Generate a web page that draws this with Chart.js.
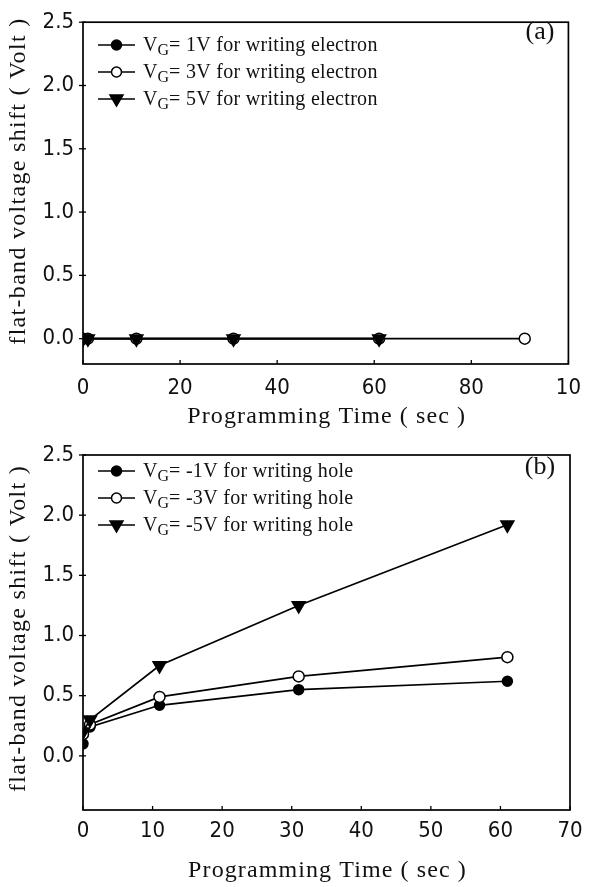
<!DOCTYPE html>
<html><head><meta charset="utf-8">
<script src="https://cdn.jsdelivr.net/npm/chart.js@4/dist/chart.umd.min.js"></script>
<style>
html,body{margin:0;padding:0;background:#fff;width:592px;height:887px;overflow:hidden}
canvas{position:absolute;left:0}
#c1{top:0}
#c2{top:430px}
</style></head><body>
<canvas id="c1" width="592" height="430"></canvas>
<canvas id="c2" width="592" height="457"></canvas>
<script>
// ---- data: panel (a) writing electrons ----
const timeA = [0, 1, 11, 31, 61];
const timeA3 = [0, 1, 11, 31, 61, 91];
const shiftA1 = [0, 0, 0, 0, 0];
const shiftA3 = [0, 0, 0, 0, 0, 0];
const shiftA5 = [0, 0, 0, 0, 0];
const legendA = ['= 1V for writing electron', '= 3V for writing electron', '= 5V for writing electron'];
const xTicksA = [0, 20, 40, 60, 80, 100];
const xTickLabelsA = ['0', '20', '40', '60', '80', '10'];

// ---- data: panel (b) writing holes ----
const timeB = [0, 1, 11, 31, 61];
const shiftB1 = [0.10, 0.24, 0.42, 0.55, 0.62];
const shiftB3 = [0.18, 0.26, 0.49, 0.66, 0.82];
const shiftB5 = [0.20, 0.30, 0.75, 1.25, 1.92];
const legendB = ['= -1V for writing hole', '= -3V for writing hole', '= -5V for writing hole'];
const xTicksB = [0, 10, 20, 30, 40, 50, 60, 70];
const xTickLabelsB = ['0', '10', '20', '30', '40', '50', '60', '70'];

const yTicks = [0, 0.5, 1.0, 1.5, 2.0, 2.5];
const yTickLabels = ['0.0', '0.5', '1.0', '1.5', '2.0', '2.5'];

const xTitle = 'Programming Time ( sec )';
const yTitle = 'flat-band voltage shift ( Volt )';

const SERIF = '"Liberation Serif", "DejaVu Serif", serif';
const NARROW = '"DejaVu Sans Condensed", "Liberation Sans Narrow", "DejaVu Sans", sans-serif';

function pts(xs, ys) { return xs.map((x, i) => ({x: x, y: ys[i]})); }

const styles = [
  {pointStyle: 'circle', pointRadius: 5, pointBackgroundColor: '#000', pointRotation: 0},
  {pointStyle: 'circle', pointRadius: 5.5, pointBackgroundColor: '#fff', pointRotation: 0},
  {pointStyle: 'triangle', pointRadius: 7.5, pointBackgroundColor: '#000', pointRotation: 180}
];

function makeDatasets(series, labels) {
  return series.map((s, i) => Object.assign({
    label: labels[i],
    data: s,
    showLine: true,
    borderColor: '#000',
    borderWidth: 1.7,
    pointBorderColor: '#000',
    pointBorderWidth: 1.5,
    order: 2 - i
  }, styles[i]));
}

const framePlugin = {
  id: 'frame',
  afterDraw(chart, args, opts) {
    const {ctx, chartArea: a, scales} = chart;
    ctx.save();
    ctx.strokeStyle = '#000';
    ctx.lineWidth = 1.7;
    ctx.strokeRect(a.left, a.top, a.right - a.left, a.bottom - a.top);
    ctx.lineWidth = 1.3;
    scales.x.ticks.forEach(t => {
      const px = scales.x.getPixelForValue(t.value);
      ctx.beginPath(); ctx.moveTo(px, a.bottom); ctx.lineTo(px, a.bottom - 4); ctx.stroke();
    });
    scales.y.ticks.forEach(t => {
      const py = scales.y.getPixelForValue(t.value);
      ctx.beginPath(); ctx.moveTo(a.left - 4, py); ctx.lineTo(a.left + 3, py); ctx.stroke();
    });
    // axis titles
    ctx.fillStyle = '#111';
    ctx.textAlign = 'center';
    ctx.textBaseline = 'middle';
    ctx.font = '24px ' + SERIF;
    ctx.letterSpacing = '1.1px';
    ctx.fillText(xTitle, (a.left + a.right) / 2 + 1, opts.xTitleY);
    ctx.letterSpacing = '1.3px';
    ctx.save();
    ctx.translate(19, (a.top + a.bottom) / 2 + opts.yTitleShift);
    ctx.rotate(-Math.PI / 2);
    ctx.fillText(yTitle, 0, 0);
    ctx.restore();
    ctx.letterSpacing = '0px';
    // panel tag
    ctx.font = '26px ' + SERIF;
    ctx.fillText(opts.tag, opts.tagX, opts.tagY);
    // legend
    chart.data.datasets.forEach((ds, i) => {
      const y = opts.legendY + i * opts.legendGap;
      const x0 = opts.legendX;
      const cx = x0 + 18.5;
      ctx.strokeStyle = '#000';
      ctx.lineWidth = 1.7;
      ctx.beginPath(); ctx.moveTo(x0, y); ctx.lineTo(x0 + 37, y); ctx.stroke();
      ctx.fillStyle = ds.pointBackgroundColor;
      ctx.lineWidth = 1.5;
      ctx.beginPath();
      if (ds.pointStyle === 'circle') {
        ctx.arc(cx, y, 5, 0, Math.PI * 2);
      } else {
        ctx.moveTo(cx - 6.5, y - 4);
        ctx.lineTo(cx + 6.5, y - 4);
        ctx.lineTo(cx, y + 7);
        ctx.closePath();
      }
      ctx.fill(); ctx.stroke();
      ctx.fillStyle = '#111';
      ctx.textAlign = 'left';
      ctx.textBaseline = 'alphabetic';
      let tx = x0 + 45;
      ctx.font = '20px ' + SERIF;
      ctx.fillText('V', tx, y + 6);
      tx += ctx.measureText('V').width;
      ctx.font = '16px ' + SERIF;
      ctx.fillText('G', tx, y + 10);
      tx += ctx.measureText('G').width;
      ctx.font = '20px ' + SERIF;
      ctx.letterSpacing = '0.3px';
      ctx.fillText(ds.label, tx, y + 6);
      ctx.letterSpacing = '0px';
    });
    ctx.restore();
  }
};

function makeChart(id, datasets, cfg) {
  return new Chart(document.getElementById(id), {
    type: 'scatter',
    data: {datasets: datasets},
    options: {
      responsive: false,
      animation: false,
      devicePixelRatio: 1,
      layout: {padding: {left: 0, right: 22, top: cfg.padTop, bottom: 0}},
      plugins: {
        legend: {display: false},
        tooltip: {enabled: false},
        frame: cfg.frame
      },
      scales: {
        x: {
          type: 'linear', min: cfg.xMin, max: cfg.xMax,
          afterBuildTicks: s => { s.ticks = cfg.xTicks.map(v => ({value: v})); },
          afterFit: s => { s.height = cfg.xHeight; },
          grid: {display: false, drawTicks: false},
          border: {display: false},
          ticks: {
            padding: cfg.xTickPad, color: '#111', maxRotation: 0, autoSkip: false,
            font: {family: NARROW, size: 22},
            callback: (v) => { const k = cfg.xTicks.indexOf(v); return k >= 0 ? cfg.xLabels[k] : ''; }
          },
          title: {display: false}
        },
        y: {
          type: 'linear', min: cfg.yMin, max: 2.5,
          afterBuildTicks: s => { s.ticks = yTicks.map(v => ({value: v})); },
          afterFit: s => { s.width = 83; },
          grid: {display: false, drawTicks: false},
          border: {display: false},
          ticks: {
            padding: 9, color: '#111', autoSkip: false,
            font: {family: NARROW, size: 22},
            callback: (v) => { const k = yTicks.indexOf(v); return k >= 0 ? yTickLabels[k] : ''; }
          },
          title: {display: false}
        }
      }
    },
    plugins: [framePlugin]
  });
}

makeChart('c1',
  makeDatasets([pts(timeA, shiftA1), pts(timeA3, shiftA3), pts(timeA, shiftA5)], legendA),
  {padTop: 15, xMin: 0, xMax: 100, xTicks: xTicksA, xLabels: xTickLabelsA, xHeight: 66, xTickPad: 11, yMin: -0.2,
   frame: {tag: '(a)', tagX: 540, tagY: 32, legendX: 98, legendY: 45, legendGap: 27, xTitleY: 417, yTitleShift: -12}});

makeChart('c2',
  makeDatasets([pts(timeB, shiftB1), pts(timeB, shiftB3), pts(timeB, shiftB5)], legendB),
  {padTop: 25, xMin: 0, xMax: 70, xTicks: xTicksB, xLabels: xTickLabelsB, xHeight: 77, xTickPad: 8, yMin: -0.45,
   frame: {tag: '(b)', tagX: 540, tagY: 37, legendX: 98, legendY: 41, legendGap: 27, xTitleY: 441, yTitleShift: -4}});
</script>
</body></html>
